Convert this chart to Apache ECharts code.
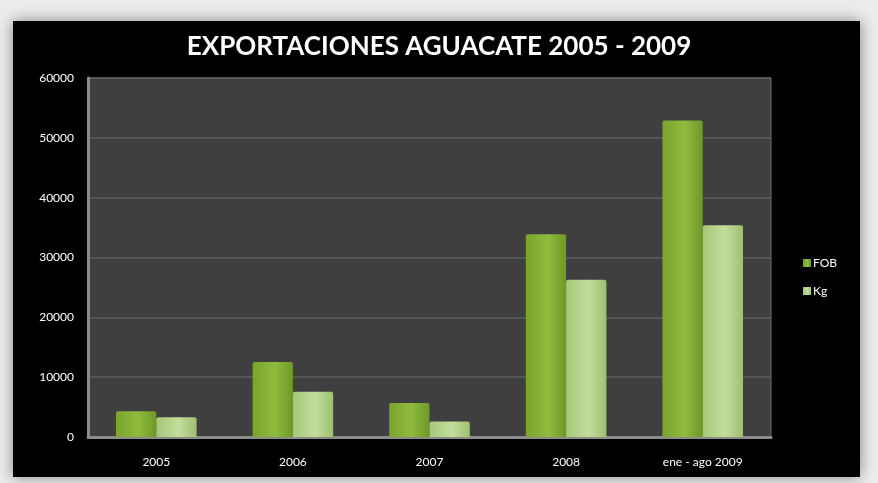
<!DOCTYPE html>
<html>
<head>
<meta charset="utf-8">
<script src="https://cdn.jsdelivr.net/npm/echarts@6/dist/echarts.min.js"></script>
<style>
  html, body { margin: 0; padding: 0; background: #ececec; }
  #chart { width: 878px; height: 483px; }
</style>
</head>
<body>
<div id="chart"></div>
<script>
const categories = ["2005", "2006", "2007", "2008", "ene - ago 2009"];
const fob = [4300, 12550, 5700, 33900, 52900];
const kg = [3300, 7550, 2600, 26300, 35400];
const yTicks = [0, 10000, 20000, 30000, 40000, 50000, 60000];

const chart = echarts.init(document.getElementById("chart"));

const font = "Lato, 'Open Sans', sans-serif";

function hGrad(a, b, c) {
    return new echarts.graphic.LinearGradient(0, 0, 1, 0, [
        { offset: 0, color: a },
        { offset: 0.55, color: b },
        { offset: 1, color: c }
    ]);
}

chart.setOption({
    backgroundColor: "#ececec",
    animation: false,
    graphic: {
        elements: [{
            type: "rect",
            z: -10,
            shape: { x: 13, y: 21, width: 847, height: 456 },
            style: {
                fill: "#000",
                shadowBlur: 14,
                shadowColor: "rgba(0,0,0,0.45)"
            }
        }]
    },
    title: {
        text: "EXPORTACIONES AGUACATE 2005 - 2009",
        left: "center",
        top: 29,
        textStyle: {
            color: "#fff",
            fontSize: 26,
            fontWeight: "bold",
            fontFamily: font
        }
    },
    legend: {
        orient: "vertical",
        left: 798,
        top: 252,
        itemWidth: 8,
        itemHeight: 8,
        itemGap: 16,
        icon: "rect",
        textStyle: { color: "#fff", fontSize: 12, fontFamily: font, padding: [0, 0, 0, -3] },
        data: ["FOB", "Kg"]
    },
    grid: {
        left: 88,
        right: 107,
        top: 78,
        bottom: 46,
        show: true,
        backgroundColor: "#3f3f3f",
        borderColor: "#6e6e6e",
        borderWidth: 1
    },
    xAxis: {
        type: "category",
        data: categories,
        axisTick: { show: false },
        axisLine: { lineStyle: { color: "#8c8c8c", width: 3 } },
        axisLabel: { color: "#fff", fontSize: 12, fontFamily: font, margin: 19 }
    },
    yAxis: {
        type: "value",
        min: yTicks[0],
        max: yTicks[yTicks.length - 1],
        interval: yTicks[1] - yTicks[0],
        axisLine: { show: true, lineStyle: { color: "#8c8c8c", width: 3 } },
        axisTick: { show: false },
        splitLine: { lineStyle: { color: "#5e5e5e", width: 1.5 } },
        axisLabel: {
            color: "#fff",
            fontSize: 12,
            fontFamily: font,
            margin: 14,
            formatter: v => String(v)
        }
    },
    series: [
        {
            name: "FOB",
            type: "bar",
            data: fob,
            barGap: "0%",
            barCategoryGap: "41%",
            itemStyle: {
                color: hGrad("#7aa42c", "#8fbb3d", "#6e9828"),
                borderRadius: [2, 2, 0, 0]
            }
        },
        {
            name: "Kg",
            type: "bar",
            data: kg,
            itemStyle: {
                color: hGrad("#a6c779", "#c3dd9c", "#a0c070"),
                borderRadius: [2, 2, 0, 0]
            }
        }
    ]
});
</script>
</body>
</html>
